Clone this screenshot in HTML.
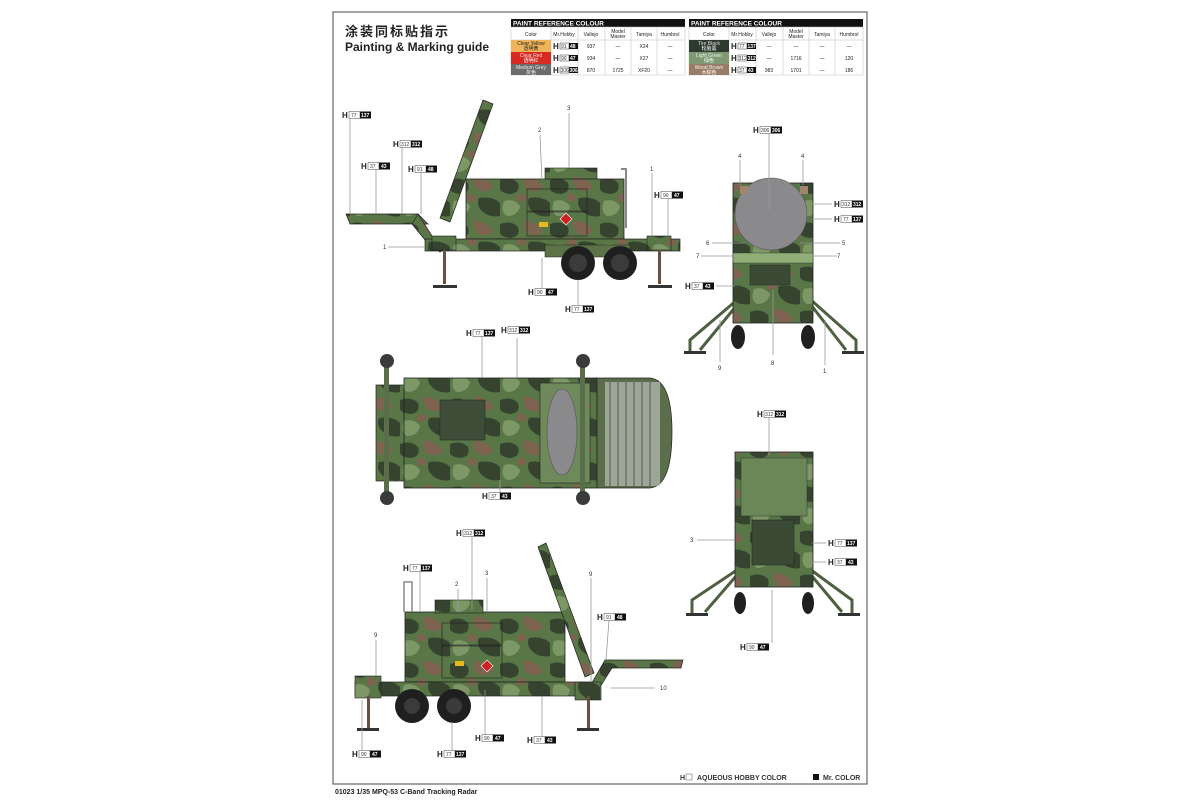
<!DOCTYPE html>
<html><head><meta charset="utf-8"><style>
html,body{margin:0;padding:0;background:#fff;width:1200px;height:800px;overflow:hidden}
svg{display:block}
text{font-family:"Liberation Sans","Noto Sans CJK SC",sans-serif}
.t{font-size:5px;fill:#222}
.n{font-size:6px;fill:#333}
.hl{font-size:8px;font-weight:bold;fill:#222}
.lw{font-size:5px;fill:#333}
.lb{font-size:5px;fill:#fff;font-weight:bold}
.ld{stroke:#999;stroke-width:0.8;fill:none}
</style></head><body>
<svg width="1200" height="800" viewBox="0 0 1200 800" xmlns="http://www.w3.org/2000/svg">
<defs>
<pattern id="camo" width="50" height="44" patternUnits="userSpaceOnUse">
<rect width="50" height="44" fill="#587646"/>
<path d="M0 4 Q11 0 18 7 Q21 16 11 18 Q1 17 0 13Z" fill="#35432f"/>
<path d="M25 0 Q39 3 43 11 Q36 18 27 13 Q21 6 25 0Z" fill="#7d6350"/>
<path d="M29 22 Q43 20 50 27 L50 40 Q39 42 32 35 Q26 29 29 22Z" fill="#35432f"/>
<path d="M4 25 Q14 22 20 30 Q18 40 7 40 Q0 36 4 25Z" fill="#7d9866"/>
<path d="M18 18 Q25 17 27 23 Q23 27 17 25Z" fill="#7d6350"/>
</pattern>
</defs>
<rect x="333" y="12" width="534" height="772" fill="#fff" stroke="#666" stroke-width="1.2"/>
<text x="345" y="36" style="font-size:13px;font-weight:bold;fill:#222;letter-spacing:2px">涂装同标贴指示</text>
<text x="345" y="51" style="font-size:12px;font-weight:bold;fill:#222">Painting &amp; Marking guide</text>

<g>
<rect x="511" y="19" width="174" height="8" fill="#111"/>
<text x="513" y="25.5" style="font-size:6.5px;font-weight:bold;fill:#fff">PAINT  REFERENCE COLOUR</text>
<rect x="511" y="27" width="174" height="48" fill="#fff" stroke="#bbb" stroke-width="0.5"/>
<line x1="511" y1="40" x2="685" y2="40" stroke="#bbb" stroke-width="0.5"/>
<line x1="551" y1="27" x2="551" y2="75" stroke="#bbb" stroke-width="0.5"/>
<line x1="578" y1="27" x2="578" y2="75" stroke="#bbb" stroke-width="0.5"/>
<line x1="605" y1="27" x2="605" y2="75" stroke="#bbb" stroke-width="0.5"/>
<line x1="631" y1="27" x2="631" y2="75" stroke="#bbb" stroke-width="0.5"/>
<line x1="657" y1="27" x2="657" y2="75" stroke="#bbb" stroke-width="0.5"/>
<text x="531" y="36" class="t" text-anchor="middle">Color</text><text x="564" y="36" class="t" text-anchor="middle">Mr.Hobby</text><text x="591" y="36" class="t" text-anchor="middle">Vallejo</text><text x="618" y="33" class="t" text-anchor="middle">Model</text><text x="618" y="38" class="t" text-anchor="middle">Master</text><text x="644" y="36" class="t" text-anchor="middle">Tamiya</text><text x="670" y="36" class="t" text-anchor="middle">Humbrol</text>
<rect x="511" y="40" width="40" height="12" fill="#f0b45a"/><rect x="511" y="52" width="40" height="12" fill="#d62a22"/><rect x="511" y="64" width="40" height="11" fill="#6b6b6b"/>
<text x="531" y="45" class="t" text-anchor="middle" fill="#a33">Clear Yellow</text><text x="531" y="50" class="t" text-anchor="middle">透明黄</text>
<text x="531" y="57" class="t" text-anchor="middle" style="fill:#fdd">Clear Red</text><text x="531" y="62" class="t" text-anchor="middle" style="fill:#fff">透明红</text>
<text x="531" y="69" class="t" text-anchor="middle" style="fill:#eee">Medium Grey</text><text x="531" y="74" class="t" text-anchor="middle" style="fill:#fff">灰色</text>
<text x="553" y="49" class="hl">H</text><rect x="560" y="43" width="9" height="6" fill="#fff" stroke="#333" stroke-width="0.5"/><text x="561" y="48" class="lw">91</text><rect x="569" y="43" width="9" height="6" fill="#111"/><text x="570" y="48" class="lb">48</text>
<text x="553" y="61" class="hl">H</text><rect x="560" y="55" width="9" height="6" fill="#fff" stroke="#333" stroke-width="0.5"/><text x="561" y="60" class="lw">90</text><rect x="569" y="55" width="9" height="6" fill="#111"/><text x="570" y="60" class="lb">47</text>
<text x="553" y="73" class="hl">H</text><rect x="560" y="67" width="9" height="6" fill="#fff" stroke="#333" stroke-width="0.5"/><text x="560.5" y="72" class="lw">306</text><rect x="569" y="67" width="9" height="6" fill="#111"/><text x="569.5" y="72" class="lb">306</text>
<text x="591" y="48" class="t" text-anchor="middle">937</text><text x="618" y="48" class="t" text-anchor="middle">—</text><text x="644" y="48" class="t" text-anchor="middle">X24</text><text x="670" y="48" class="t" text-anchor="middle">—</text>
<text x="591" y="60" class="t" text-anchor="middle">934</text><text x="618" y="60" class="t" text-anchor="middle">—</text><text x="644" y="60" class="t" text-anchor="middle">X27</text><text x="670" y="60" class="t" text-anchor="middle">—</text>
<text x="591" y="72" class="t" text-anchor="middle">870</text><text x="618" y="72" class="t" text-anchor="middle">1725</text><text x="644" y="72" class="t" text-anchor="middle">XF20</text><text x="670" y="72" class="t" text-anchor="middle">—</text>
</g>
<g>
<rect x="689" y="19" width="174" height="8" fill="#111"/>
<text x="691" y="25.5" style="font-size:6.5px;font-weight:bold;fill:#fff">PAINT  REFERENCE COLOUR</text>
<rect x="689" y="27" width="174" height="48" fill="#fff" stroke="#bbb" stroke-width="0.5"/>
<line x1="689" y1="40" x2="863" y2="40" stroke="#bbb" stroke-width="0.5"/>
<line x1="729" y1="27" x2="729" y2="75" stroke="#bbb" stroke-width="0.5"/>
<line x1="756" y1="27" x2="756" y2="75" stroke="#bbb" stroke-width="0.5"/>
<line x1="783" y1="27" x2="783" y2="75" stroke="#bbb" stroke-width="0.5"/>
<line x1="809" y1="27" x2="809" y2="75" stroke="#bbb" stroke-width="0.5"/>
<line x1="835" y1="27" x2="835" y2="75" stroke="#bbb" stroke-width="0.5"/>
<text x="709" y="36" class="t" text-anchor="middle">Color</text><text x="742" y="36" class="t" text-anchor="middle">Mr.Hobby</text><text x="769" y="36" class="t" text-anchor="middle">Vallejo</text><text x="796" y="33" class="t" text-anchor="middle">Model</text><text x="796" y="38" class="t" text-anchor="middle">Master</text><text x="822" y="36" class="t" text-anchor="middle">Tamiya</text><text x="849" y="36" class="t" text-anchor="middle">Humbrol</text>
<rect x="689" y="40" width="40" height="12" fill="#2e3a30"/><rect x="689" y="52" width="40" height="12" fill="#7f9a72"/><rect x="689" y="64" width="40" height="11" fill="#9a7c66"/>
<text x="709" y="45" class="t" text-anchor="middle" style="fill:#ddd">Tire Black</text><text x="709" y="50" class="t" text-anchor="middle" style="fill:#fff">轮胎黑</text>
<text x="709" y="57" class="t" text-anchor="middle" style="fill:#eee">Light Green</text><text x="709" y="62" class="t" text-anchor="middle" style="fill:#fff">绿色</text>
<text x="709" y="69" class="t" text-anchor="middle" style="fill:#eee">Wood Brown</text><text x="709" y="74" class="t" text-anchor="middle" style="fill:#fff">木棕色</text>
<text x="731" y="49" class="hl">H</text><rect x="738" y="43" width="9" height="6" fill="#fff" stroke="#333" stroke-width="0.5"/><text x="739" y="48" class="lw">77</text><rect x="747" y="43" width="9" height="6" fill="#111"/><text x="747.5" y="48" class="lb">137</text>
<text x="731" y="61" class="hl">H</text><rect x="738" y="55" width="9" height="6" fill="#fff" stroke="#333" stroke-width="0.5"/><text x="738.5" y="60" class="lw">312</text><rect x="747" y="55" width="9" height="6" fill="#111"/><text x="747.5" y="60" class="lb">312</text>
<text x="731" y="73" class="hl">H</text><rect x="738" y="67" width="9" height="6" fill="#fff" stroke="#333" stroke-width="0.5"/><text x="739" y="72" class="lw">37</text><rect x="747" y="67" width="9" height="6" fill="#111"/><text x="748" y="72" class="lb">43</text>
<text x="769" y="48" class="t" text-anchor="middle">—</text><text x="796" y="48" class="t" text-anchor="middle">—</text><text x="822" y="48" class="t" text-anchor="middle">—</text><text x="849" y="48" class="t" text-anchor="middle">—</text>
<text x="769" y="60" class="t" text-anchor="middle">—</text><text x="796" y="60" class="t" text-anchor="middle">1716</text><text x="822" y="60" class="t" text-anchor="middle">—</text><text x="849" y="60" class="t" text-anchor="middle">120</text>
<text x="769" y="72" class="t" text-anchor="middle">983</text><text x="796" y="72" class="t" text-anchor="middle">1701</text><text x="822" y="72" class="t" text-anchor="middle">—</text><text x="849" y="72" class="t" text-anchor="middle">186</text>
</g>

<!-- VIEW 1 -->
<g>
<path d="M346 214 L418 214 L428 224 L350 224Z" fill="url(#camo)" stroke="#222" stroke-width="0.7"/>
<path d="M418 214 L432 236 L445 248 L440 252 L425 240 L412 224Z" fill="url(#camo)" stroke="#222" stroke-width="0.7"/>
<path d="M483 100 L493 104 L450 222 L440 218Z" fill="url(#camo)" stroke="#222" stroke-width="0.7"/>
<rect x="545" y="168" width="52" height="12" fill="url(#camo)" stroke="#222" stroke-width="0.6"/>
<rect x="466" y="179" width="158" height="60" fill="url(#camo)" stroke="#222" stroke-width="0.8"/>
<rect x="527" y="189" width="60" height="22" fill="none" stroke="#222" stroke-width="0.6"/>
<rect x="527" y="212" width="60" height="24" fill="none" stroke="#222" stroke-width="0.6"/>
<rect x="539" y="222" width="9" height="5" fill="#e6b820"/>
<path d="M566 213 l6 6 l-6 6 l-6 -6z" fill="#c22" stroke="#fff" stroke-width="0.6"/>
<path d="M621 168 h6 v60 h-2 v-58 h-4z" fill="#888"/>
<rect x="425" y="239" width="255" height="12" fill="url(#camo)" stroke="#222" stroke-width="0.7"/>
<rect x="545" y="245" width="85" height="12" fill="#5b7347" stroke="#222" stroke-width="0.5"/>
<rect x="432" y="236" width="24" height="14" fill="url(#camo)" stroke="#222" stroke-width="0.6"/>
<rect x="647" y="236" width="24" height="14" fill="url(#camo)" stroke="#222" stroke-width="0.6"/>
<circle cx="578" cy="263" r="17" fill="#1e1f1e"/><circle cx="578" cy="263" r="9" fill="#3a3c3a"/>
<circle cx="620" cy="263" r="17" fill="#1e1f1e"/><circle cx="620" cy="263" r="9" fill="#3a3c3a"/>
<rect x="443" y="250" width="3" height="34" fill="#6a5040"/><rect x="433" y="285" width="24" height="3" fill="#333"/>
<rect x="658" y="250" width="3" height="34" fill="#6a5040"/><rect x="648" y="285" width="24" height="3" fill="#333"/>
</g>

<!-- VIEW 2 -->
<g>
<path d="M737 300 L690 340 L690 353 M737 305 L700 350 M811 300 L856 340 L856 353 M811 305 L846 350" stroke="#4d6040" stroke-width="3" fill="none"/>
<rect x="684" y="351" width="22" height="3" fill="#333"/><rect x="842" y="351" width="22" height="3" fill="#333"/>
<rect x="733" y="183" width="80" height="140" fill="url(#camo)" stroke="#222" stroke-width="0.8"/>
<rect x="733" y="253" width="80" height="10" fill="#8fae78" stroke="#333" stroke-width="0.4"/>
<circle cx="771" cy="214" r="36" fill="#8a8a8c" stroke="#555" stroke-width="0.6"/>
<rect x="740" y="186" width="8" height="8" fill="#a0866c"/><rect x="800" y="186" width="8" height="8" fill="#a0866c"/>
<rect x="750" y="265" width="40" height="20" fill="#3a4a35" stroke="#222" stroke-width="0.4"/>
<ellipse cx="738" cy="337" rx="7" ry="12" fill="#1e1f1e"/><ellipse cx="808" cy="337" rx="7" ry="12" fill="#1e1f1e"/>
</g>

<!-- VIEW 3 -->
<g>
<rect x="376" y="385" width="30" height="96" fill="url(#camo)" stroke="#222" stroke-width="0.7"/>
<rect x="404" y="378" width="193" height="110" fill="url(#camo)" stroke="#222" stroke-width="0.8"/>
<rect x="440" y="400" width="45" height="40" fill="#3d4d37" stroke="#222" stroke-width="0.5"/>
<rect x="540" y="383" width="50" height="100" fill="#6f8a5a" stroke="#222" stroke-width="0.6"/>
<ellipse cx="562" cy="432" rx="15" ry="43" fill="#8a8a8c" stroke="#555" stroke-width="0.6"/>
<path d="M597 378 L650 378 Q672 380 672 432 Q672 486 650 488 L597 488Z" fill="#5a6e4c" stroke="#222" stroke-width="0.7"/>
<rect x="605" y="382" width="55" height="104" fill="#c8ccc4" opacity="0.6"/>
<g stroke="#556" stroke-width="1">
<line x1="610" y1="382" x2="610" y2="486"/><line x1="618" y1="382" x2="618" y2="486"/><line x1="626" y1="382" x2="626" y2="486"/><line x1="634" y1="382" x2="634" y2="486"/><line x1="642" y1="382" x2="642" y2="486"/><line x1="650" y1="382" x2="650" y2="486"/>
</g>
<rect x="384" y="364" width="5" height="140" fill="#5a6e4c"/><rect x="580" y="364" width="5" height="140" fill="#5a6e4c"/>
<circle cx="387" cy="361" r="7" fill="#3a3c3a"/><circle cx="387" cy="498" r="7" fill="#3a3c3a"/>
<circle cx="583" cy="361" r="7" fill="#3a3c3a"/><circle cx="583" cy="498" r="7" fill="#3a3c3a"/>
</g>

<!-- VIEW 4 -->
<g>
<path d="M737 570 L692 600 L692 615 M737 575 L705 612 M811 570 L852 600 L852 615 M811 575 L842 612" stroke="#4d6040" stroke-width="3" fill="none"/>
<rect x="686" y="613" width="22" height="3" fill="#333"/><rect x="838" y="613" width="22" height="3" fill="#333"/>
<rect x="735" y="452" width="78" height="135" fill="url(#camo)" stroke="#222" stroke-width="0.8"/>
<rect x="741" y="458" width="66" height="58" fill="#6a8757" stroke="#333" stroke-width="0.5"/>
<rect x="752" y="520" width="42" height="45" fill="#3a4a35" stroke="#222" stroke-width="0.5"/>
<ellipse cx="740" cy="603" rx="6" ry="11" fill="#1e1f1e"/><ellipse cx="808" cy="603" rx="6" ry="11" fill="#1e1f1e"/>
</g>

<!-- VIEW 5 -->
<g>
<rect x="405" y="612" width="160" height="70" fill="url(#camo)" stroke="#222" stroke-width="0.8"/>
<rect x="435" y="600" width="48" height="13" fill="url(#camo)" stroke="#222" stroke-width="0.6"/>
<rect x="442" y="623" width="60" height="22" fill="none" stroke="#222" stroke-width="0.6"/>
<rect x="442" y="646" width="60" height="32" fill="none" stroke="#222" stroke-width="0.6"/>
<rect x="455" y="661" width="9" height="5" fill="#e6b820"/>
<path d="M487 660 l6 6 l-6 6 l-6 -6z" fill="#c22" stroke="#fff" stroke-width="0.6"/>
<path d="M404 612 v-30 h8 v30" fill="none" stroke="#888" stroke-width="1.5"/>
<path d="M538 547 L546 543 L594 673 L585 677Z" fill="url(#camo)" stroke="#222" stroke-width="0.7"/>
<rect x="355" y="682" width="240" height="14" fill="url(#camo)" stroke="#222" stroke-width="0.7"/>
<path d="M605 660 L683 660 L681 668 L612 668 L595 695 L585 695Z" fill="url(#camo)" stroke="#222" stroke-width="0.7"/>
<rect x="355" y="676" width="26" height="22" fill="url(#camo)" stroke="#222" stroke-width="0.6"/>
<rect x="575" y="682" width="26" height="18" fill="url(#camo)" stroke="#222" stroke-width="0.6"/>
<circle cx="412" cy="706" r="17" fill="#1e1f1e"/><circle cx="412" cy="706" r="8" fill="#3a3c3a"/>
<circle cx="454" cy="706" r="17" fill="#1e1f1e"/><circle cx="454" cy="706" r="8" fill="#3a3c3a"/>
<rect x="367" y="696" width="3" height="32" fill="#6a5040"/><rect x="357" y="728" width="22" height="3" fill="#333"/>
<rect x="587" y="696" width="3" height="32" fill="#6a5040"/><rect x="577" y="728" width="22" height="3" fill="#333"/>
</g>

<g class="ld">
<line x1="350" y1="118" x2="350" y2="214"/><line x1="376" y1="169" x2="376" y2="214"/><line x1="402" y1="147" x2="402" y2="214"/><line x1="421" y1="172" x2="421" y2="214"/>
<line x1="540" y1="135" x2="542" y2="180"/><line x1="569" y1="113" x2="569" y2="168"/><line x1="652" y1="173" x2="652" y2="236"/><line x1="668" y1="198" x2="668" y2="236"/>
<line x1="388" y1="247" x2="424" y2="247"/><line x1="542" y1="258" x2="542" y2="289"/><line x1="578" y1="280" x2="578" y2="305"/>
<line x1="769" y1="134" x2="769" y2="210"/><line x1="740" y1="160" x2="740" y2="185"/><line x1="803" y1="160" x2="803" y2="185"/>
<line x1="812" y1="204" x2="832" y2="204"/><line x1="812" y1="219" x2="832" y2="219"/><line x1="712" y1="243" x2="745" y2="243"/><line x1="800" y1="243" x2="840" y2="243"/>
<line x1="701" y1="256" x2="735" y2="256"/><line x1="812" y1="256" x2="837" y2="256"/><line x1="716" y1="286" x2="735" y2="286"/>
<line x1="773" y1="290" x2="773" y2="355"/><line x1="720" y1="320" x2="720" y2="362"/><line x1="825" y1="320" x2="825" y2="365"/>
<line x1="482" y1="336" x2="482" y2="378"/><line x1="517" y1="338" x2="517" y2="378"/><line x1="500" y1="480" x2="500" y2="493"/>
<line x1="769" y1="418" x2="769" y2="455"/><line x1="697" y1="540" x2="735" y2="540"/><line x1="812" y1="543" x2="826" y2="543"/><line x1="812" y1="562" x2="826" y2="562"/><line x1="772" y1="590" x2="772" y2="643"/>
<line x1="472" y1="537" x2="472" y2="610"/><line x1="420" y1="572" x2="420" y2="612"/><line x1="458" y1="589" x2="458" y2="612"/><line x1="487" y1="578" x2="487" y2="612"/>
<line x1="591" y1="578" x2="591" y2="682"/><line x1="609" y1="620" x2="606" y2="660"/><line x1="376" y1="640" x2="376" y2="676"/><line x1="611" y1="688" x2="655" y2="688"/>
<line x1="362" y1="700" x2="362" y2="750"/><line x1="452" y1="722" x2="452" y2="750"/><line x1="485" y1="690" x2="485" y2="735"/><line x1="542" y1="696" x2="542" y2="737"/>
</g>

<g class="n">
<text x="538" y="132">2</text><text x="567" y="110">3</text><text x="650" y="171">1</text><text x="383" y="249">1</text>
<text x="738" y="158">4</text><text x="801" y="158">4</text><text x="706" y="245">6</text><text x="842" y="245">5</text><text x="696" y="258">7</text><text x="837" y="258">7</text>
<text x="771" y="365">8</text><text x="718" y="370">9</text><text x="823" y="373">1</text>
<text x="690" y="542">3</text><text x="455" y="586">2</text><text x="485" y="575">3</text><text x="589" y="576">9</text><text x="374" y="637">9</text><text x="660" y="690">10</text>
</g>

<g>
<g transform="translate(342,118)"><text class="hl" x="0" y="0">H</text><rect x="7" y="-6.5" width="11" height="7" fill="#fff" stroke="#444" stroke-width="0.5"/><text class="lw" x="9" y="-1">77</text><rect x="18" y="-6.5" width="11" height="7" fill="#111"/><text class="lb" x="19" y="-1">137</text></g>
<g transform="translate(393,147)"><text class="hl" x="0" y="0">H</text><rect x="7" y="-6.5" width="11" height="7" fill="#fff" stroke="#444" stroke-width="0.5"/><text class="lw" x="8" y="-1">312</text><rect x="18" y="-6.5" width="11" height="7" fill="#111"/><text class="lb" x="19" y="-1">312</text></g>
<g transform="translate(361,169)"><text class="hl" x="0" y="0">H</text><rect x="7" y="-6.5" width="11" height="7" fill="#fff" stroke="#444" stroke-width="0.5"/><text class="lw" x="9" y="-1">37</text><rect x="18" y="-6.5" width="11" height="7" fill="#111"/><text class="lb" x="20" y="-1">43</text></g>
<g transform="translate(408,172)"><text class="hl" x="0" y="0">H</text><rect x="7" y="-6.5" width="11" height="7" fill="#fff" stroke="#444" stroke-width="0.5"/><text class="lw" x="9" y="-1">91</text><rect x="18" y="-6.5" width="11" height="7" fill="#111"/><text class="lb" x="20" y="-1">48</text></g>
<g transform="translate(654,198)"><text class="hl" x="0" y="0">H</text><rect x="7" y="-6.5" width="11" height="7" fill="#fff" stroke="#444" stroke-width="0.5"/><text class="lw" x="9" y="-1">90</text><rect x="18" y="-6.5" width="11" height="7" fill="#111"/><text class="lb" x="20" y="-1">47</text></g>
<g transform="translate(528,295)"><text class="hl" x="0" y="0">H</text><rect x="7" y="-6.5" width="11" height="7" fill="#fff" stroke="#444" stroke-width="0.5"/><text class="lw" x="9" y="-1">90</text><rect x="18" y="-6.5" width="11" height="7" fill="#111"/><text class="lb" x="20" y="-1">47</text></g>
<g transform="translate(565,312)"><text class="hl" x="0" y="0">H</text><rect x="7" y="-6.5" width="11" height="7" fill="#fff" stroke="#444" stroke-width="0.5"/><text class="lw" x="9" y="-1">77</text><rect x="18" y="-6.5" width="11" height="7" fill="#111"/><text class="lb" x="19" y="-1">137</text></g>
<g transform="translate(753,133)"><text class="hl" x="0" y="0">H</text><rect x="7" y="-6.5" width="11" height="7" fill="#fff" stroke="#444" stroke-width="0.5"/><text class="lw" x="8" y="-1">306</text><rect x="18" y="-6.5" width="11" height="7" fill="#111"/><text class="lb" x="19" y="-1">306</text></g>
<g transform="translate(834,207)"><text class="hl" x="0" y="0">H</text><rect x="7" y="-6.5" width="11" height="7" fill="#fff" stroke="#444" stroke-width="0.5"/><text class="lw" x="8" y="-1">312</text><rect x="18" y="-6.5" width="11" height="7" fill="#111"/><text class="lb" x="19" y="-1">312</text></g>
<g transform="translate(834,222)"><text class="hl" x="0" y="0">H</text><rect x="7" y="-6.5" width="11" height="7" fill="#fff" stroke="#444" stroke-width="0.5"/><text class="lw" x="9" y="-1">77</text><rect x="18" y="-6.5" width="11" height="7" fill="#111"/><text class="lb" x="19" y="-1">137</text></g>
<g transform="translate(685,289)"><text class="hl" x="0" y="0">H</text><rect x="7" y="-6.5" width="11" height="7" fill="#fff" stroke="#444" stroke-width="0.5"/><text class="lw" x="9" y="-1">37</text><rect x="18" y="-6.5" width="11" height="7" fill="#111"/><text class="lb" x="20" y="-1">43</text></g>
<g transform="translate(466,336)"><text class="hl" x="0" y="0">H</text><rect x="7" y="-6.5" width="11" height="7" fill="#fff" stroke="#444" stroke-width="0.5"/><text class="lw" x="9" y="-1">77</text><rect x="18" y="-6.5" width="11" height="7" fill="#111"/><text class="lb" x="19" y="-1">137</text></g>
<g transform="translate(501,333)"><text class="hl" x="0" y="0">H</text><rect x="7" y="-6.5" width="11" height="7" fill="#fff" stroke="#444" stroke-width="0.5"/><text class="lw" x="8" y="-1">312</text><rect x="18" y="-6.5" width="11" height="7" fill="#111"/><text class="lb" x="19" y="-1">312</text></g>
<g transform="translate(482,499)"><text class="hl" x="0" y="0">H</text><rect x="7" y="-6.5" width="11" height="7" fill="#fff" stroke="#444" stroke-width="0.5"/><text class="lw" x="9" y="-1">37</text><rect x="18" y="-6.5" width="11" height="7" fill="#111"/><text class="lb" x="20" y="-1">43</text></g>
<g transform="translate(757,417)"><text class="hl" x="0" y="0">H</text><rect x="7" y="-6.5" width="11" height="7" fill="#fff" stroke="#444" stroke-width="0.5"/><text class="lw" x="8" y="-1">312</text><rect x="18" y="-6.5" width="11" height="7" fill="#111"/><text class="lb" x="19" y="-1">312</text></g>
<g transform="translate(828,546)"><text class="hl" x="0" y="0">H</text><rect x="7" y="-6.5" width="11" height="7" fill="#fff" stroke="#444" stroke-width="0.5"/><text class="lw" x="9" y="-1">77</text><rect x="18" y="-6.5" width="11" height="7" fill="#111"/><text class="lb" x="19" y="-1">137</text></g>
<g transform="translate(828,565)"><text class="hl" x="0" y="0">H</text><rect x="7" y="-6.5" width="11" height="7" fill="#fff" stroke="#444" stroke-width="0.5"/><text class="lw" x="9" y="-1">37</text><rect x="18" y="-6.5" width="11" height="7" fill="#111"/><text class="lb" x="20" y="-1">43</text></g>
<g transform="translate(740,650)"><text class="hl" x="0" y="0">H</text><rect x="7" y="-6.5" width="11" height="7" fill="#fff" stroke="#444" stroke-width="0.5"/><text class="lw" x="9" y="-1">90</text><rect x="18" y="-6.5" width="11" height="7" fill="#111"/><text class="lb" x="20" y="-1">47</text></g>
<g transform="translate(456,536)"><text class="hl" x="0" y="0">H</text><rect x="7" y="-6.5" width="11" height="7" fill="#fff" stroke="#444" stroke-width="0.5"/><text class="lw" x="8" y="-1">312</text><rect x="18" y="-6.5" width="11" height="7" fill="#111"/><text class="lb" x="19" y="-1">312</text></g>
<g transform="translate(403,571)"><text class="hl" x="0" y="0">H</text><rect x="7" y="-6.5" width="11" height="7" fill="#fff" stroke="#444" stroke-width="0.5"/><text class="lw" x="9" y="-1">77</text><rect x="18" y="-6.5" width="11" height="7" fill="#111"/><text class="lb" x="19" y="-1">137</text></g>
<g transform="translate(597,620)"><text class="hl" x="0" y="0">H</text><rect x="7" y="-6.5" width="11" height="7" fill="#fff" stroke="#444" stroke-width="0.5"/><text class="lw" x="9" y="-1">91</text><rect x="18" y="-6.5" width="11" height="7" fill="#111"/><text class="lb" x="20" y="-1">48</text></g>
<g transform="translate(352,757)"><text class="hl" x="0" y="0">H</text><rect x="7" y="-6.5" width="11" height="7" fill="#fff" stroke="#444" stroke-width="0.5"/><text class="lw" x="9" y="-1">90</text><rect x="18" y="-6.5" width="11" height="7" fill="#111"/><text class="lb" x="20" y="-1">47</text></g>
<g transform="translate(437,757)"><text class="hl" x="0" y="0">H</text><rect x="7" y="-6.5" width="11" height="7" fill="#fff" stroke="#444" stroke-width="0.5"/><text class="lw" x="9" y="-1">77</text><rect x="18" y="-6.5" width="11" height="7" fill="#111"/><text class="lb" x="19" y="-1">137</text></g>
<g transform="translate(475,741)"><text class="hl" x="0" y="0">H</text><rect x="7" y="-6.5" width="11" height="7" fill="#fff" stroke="#444" stroke-width="0.5"/><text class="lw" x="9" y="-1">90</text><rect x="18" y="-6.5" width="11" height="7" fill="#111"/><text class="lb" x="20" y="-1">47</text></g>
<g transform="translate(527,743)"><text class="hl" x="0" y="0">H</text><rect x="7" y="-6.5" width="11" height="7" fill="#fff" stroke="#444" stroke-width="0.5"/><text class="lw" x="9" y="-1">37</text><rect x="18" y="-6.5" width="11" height="7" fill="#111"/><text class="lb" x="20" y="-1">43</text></g>
</g>

<text x="680" y="780" style="font-size:7px;font-weight:bold;fill:#333">H</text>
<rect x="686" y="774" width="6" height="6" fill="#fff" stroke="#555" stroke-width="0.5"/>
<text x="697" y="780" style="font-size:7px;font-weight:bold;fill:#333">AQUEOUS HOBBY COLOR</text>
<rect x="813" y="774" width="6" height="6" fill="#111"/>
<text x="823" y="780" style="font-size:7px;font-weight:bold;fill:#333">Mr. COLOR</text>
<text x="335" y="794" style="font-size:7px;font-weight:bold;fill:#222">01023  1/35  MPQ-53 C-Band Tracking Radar</text>
</svg>
</body></html>
